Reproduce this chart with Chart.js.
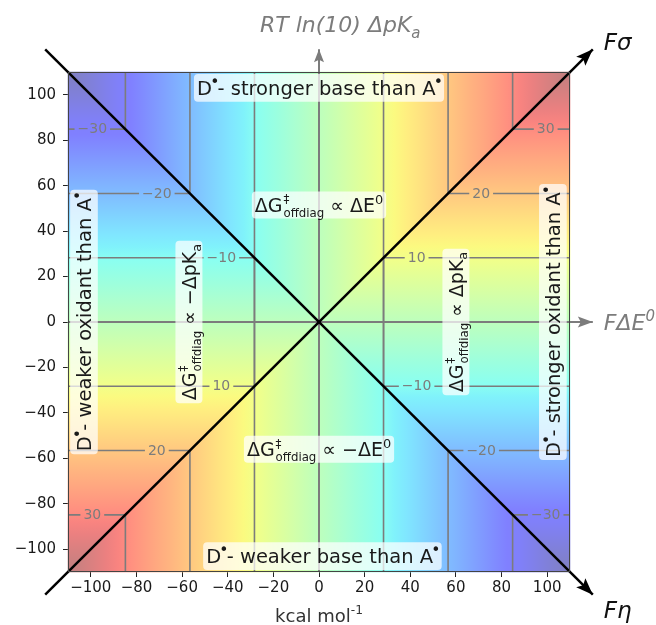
<!DOCTYPE html>
<html lang="en">
<head>
<meta charset="UTF-8">
<title>Offdiagonal barrier map</title>
<script src="https://cdn.jsdelivr.net/npm/chart.js"></script>
<style>
  html, body { margin: 0; padding: 0; background: #fff; }
</style>
</head>
<body>
<canvas id="c" width="656" height="625"></canvas>
<script>
// axis range and tick values (kcal/mol)
const axisMin = -110, axisMax = 110;
const xTicks = [-100, -80, -60, -40, -20, 0, 20, 40, 60, 80, 100];
const yTicks = [-100, -80, -60, -40, -20, 0, 20, 40, 60, 80, 100];

// contour levels of dG offdiag, labelled next to the two diagonals
const contourLevels = [-30, -20, -10, 10, 20, 30];
const levelToAxis = 2 * Math.SQRT2;   // one contour unit in kcal/mol along x or y

// the F sigma / F eta diagonals and the two grey reference axes
const sigmaLine = [{x: -120, y: -120}, {x: 120, y: 120}];
const etaLine = [{x: -120, y: 120}, {x: 120, y: -120}];
const dEAxis = [{x: -110, y: 0}, {x: 120, y: 0}];
const pKaAxis = [{x: 0, y: -110}, {x: 0, y: 120}];

const FONT = '"DejaVu Sans"';
const GREY = '#7c7c7c';

// rich text pieces
const N = t => ({t, s: 'n'});
const SUP = t => ({t, s: 'sup'});
const SUB = t => ({t, s: 'sub'});
const DOT = () => ({t: '•', s: 'dot'});
const STACK = (a, b) => ({stack: [a, b]});
const dG = [N('ΔG'), STACK('‡', 'offdiag')];

const notes = [
  {x: 0, y: 103, rot: 0, fs: 19.5, segs: [N('D'), DOT(), N('- stronger base than A'), DOT()]},
  {x: 1.5, y: -103, rot: 0, fs: 19.5, segs: [N('D'), DOT(), N('- weaker base than A'), DOT()]},
  {x: -103, y: 0, rot: -1, fs: 19.5, segs: [N('D'), DOT(), N('- weaker oxidant than A'), DOT()]},
  {x: 102.5, y: 0, rot: -1, fs: 19.5, segs: [N('D'), DOT(), N('- stronger oxidant than A'), DOT()]},
  {x: 0, y: 51.5, rot: 0, fs: 19, segs: [...dG, N(' ∝ ΔE'), SUP('0')]},
  {x: 0, y: -56, rot: 0, fs: 19, segs: [...dG, N(' ∝ −ΔE'), SUP('0')]},
  {x: -57, y: 0, rot: -1, fs: 19, segs: [...dG, N(' ∝ −ΔpK'), SUB('a')]},
  {x: 60, y: 0, rot: -1, fs: 19, segs: [...dG, N(' ∝ ΔpK'), SUB('a')]}
];

// jet colormap, drawn at alpha 0.5 over white
function jet(t) {
  function seg(pts) {
    for (let i = 1; i < pts.length; i++) {
      if (t <= pts[i][0]) {
        const [x0, y0] = pts[i - 1], [x1, y1] = pts[i];
        return y0 + (y1 - y0) * (t - x0) / (x1 - x0);
      }
    }
    return pts[pts.length - 1][1];
  }
  const r = seg([[0, 0], [0.35, 0], [0.66, 1], [0.89, 1], [1, 0.5]]);
  const g = seg([[0, 0], [0.125, 0], [0.375, 1], [0.64, 1], [0.91, 0], [1, 0]]);
  const b = seg([[0, 0.5], [0.11, 1], [0.34, 1], [0.65, 0], [1, 0]]);
  const mix = c => Math.round(255 * (0.5 + 0.5 * c));
  return `rgb(${mix(r)},${mix(g)},${mix(b)})`;
}

function jetGradient(ctx, x0, y0, x1, y1) {
  const grad = ctx.createLinearGradient(x0, y0, x1, y1);
  for (let i = 0; i <= 40; i++) grad.addColorStop(i / 40, jet(i / 40));
  return grad;
}

function layoutRich(ctx, segs, fs, style) {
  let w = 0;
  const items = [];
  const small = fs * 0.68;
  segs.forEach(s => {
    if (s.stack) {
      const ss = fs * 0.62;
      ctx.font = `${style} ${ss}px ${FONT}`;
      const w1 = ctx.measureText(s.stack[0]).width;
      const w2 = ctx.measureText(s.stack[1]).width;
      items.push({t: s.stack[0], x: w + 1, dy: -0.45 * fs, size: ss});
      items.push({t: s.stack[1], x: w + 1, dy: 0.26 * fs, size: ss});
      w += Math.max(w1, w2) + 1;
    } else {
      const size = s.s === 'n' ? fs : s.s === 'dot' ? fs * 0.8 : small;
      ctx.font = `${style} ${size}px ${FONT}`;
      const dy = s.s === 'sup' ? -0.42 * fs : s.s === 'dot' ? -0.42 * fs : s.s === 'sub' ? 0.24 * fs : 0;
      const tw = ctx.measureText(s.t).width;
      const shift = s.s === 'dot' ? -0.2 * tw : 0;
      items.push({t: s.t, x: w + shift, dy, size});
      w += s.s === 'dot' ? tw * 0.6 : tw;
    }
  });
  return {items, w};
}

function drawRich(ctx, items, x, y, style) {
  ctx.textBaseline = 'alphabetic';
  ctx.textAlign = 'left';
  items.forEach(it => {
    ctx.font = `${style} ${it.size}px ${FONT}`;
    ctx.fillText(it.t, x + it.x, y + it.dy);
  });
}

function arrowHead(ctx, x0, y0, x1, y1, len, half, color) {
  const a = Math.atan2(y1 - y0, x1 - x0);
  ctx.save();
  ctx.translate(x1, y1);
  ctx.rotate(a);
  ctx.fillStyle = color;
  ctx.beginPath();
  ctx.moveTo(0, 0);
  ctx.lineTo(-len, -half);
  ctx.lineTo(-len * 0.8, 0);
  ctx.lineTo(-len, half);
  ctx.closePath();
  ctx.fill();
  ctx.restore();
}

const mapPlugin = {
  id: 'map',
  beforeDatasetsDraw(chart) {
    const {ctx, scales: {x, y}} = chart;
    const X = v => x.getPixelForValue(v), Y = v => y.getPixelForValue(v);
    const cx = X(0), cy = Y(0);
    // four wedges: top follows +x, right +y, bottom -x, left -y
    const wedges = [
      {a: [axisMin, axisMax], b: [axisMax, axisMax], g: [X(axisMin), 0, X(axisMax), 0]},
      {a: [axisMax, axisMax], b: [axisMax, axisMin], g: [0, Y(axisMin), 0, Y(axisMax)]},
      {a: [axisMax, axisMin], b: [axisMin, axisMin], g: [X(axisMax), 0, X(axisMin), 0]},
      {a: [axisMin, axisMin], b: [axisMin, axisMax], g: [0, Y(axisMax), 0, Y(axisMin)]}
    ];
    ctx.save();
    wedges.forEach(w => {
      ctx.beginPath();
      ctx.moveTo(cx, cy);
      ctx.lineTo(X(w.a[0]), Y(w.a[1]));
      ctx.lineTo(X(w.b[0]), Y(w.b[1]));
      ctx.closePath();
      ctx.fillStyle = jetGradient(ctx, ...w.g);
      ctx.fill();
      ctx.strokeStyle = ctx.fillStyle;
      ctx.lineWidth = 0.6;
      ctx.stroke();
    });

    // contour lines, L-shaped around the diagonals, with inline labels
    ctx.strokeStyle = GREY;
    ctx.lineWidth = 1.6;
    ctx.font = `14px ${FONT}`;
    ctx.textAlign = 'center';
    ctx.textBaseline = 'middle';
    const smallest = Math.min(...contourLevels.map(Math.abs));
    contourLevels.forEach(level => {
      const p = Math.abs(level) * levelToAxis;
      const corners = level < 0 ? [[-1, 1], [1, -1]] : [[1, 1], [-1, -1]];
      corners.forEach(([sx, sy]) => {
        const px = sx * p, py = sy * p;
        // vertical leg to the top / bottom edge
        const yFrom = Math.abs(level) === smallest ? -py : py;
        ctx.beginPath();
        ctx.moveTo(X(px), Y(yFrom));
        ctx.lineTo(X(px), Y(sy * axisMax));
        ctx.stroke();
        // horizontal leg to the side edge, broken for the label
        const label = level < 0 ? '−' + Math.abs(level) : String(level);
        const lx = X(px + sx * 14.5);
        const gap = ctx.measureText(label).width / 2 + 3;
        const xa = X(px), xb = X(sx * axisMax);
        ctx.beginPath();
        ctx.moveTo(xa, Y(py));
        ctx.lineTo(lx - sx * gap, Y(py));
        ctx.moveTo(lx + sx * gap, Y(py));
        ctx.lineTo(xb, Y(py));
        ctx.stroke();
        ctx.fillStyle = GREY;
        ctx.fillText(label, lx, Y(py) + 0.5);
      });
    });
    ctx.restore();
  },
  afterDatasetsDraw(chart) {
    const {ctx, chartArea: ca, scales: {x, y}} = chart;
    const X = v => x.getPixelForValue(v), Y = v => y.getPixelForValue(v);
    ctx.save();
    // arrow heads
    const p = (pt) => [X(pt.x), Y(pt.y)];
    arrowHead(ctx, ...p(dEAxis[0]), ...p(dEAxis[1]), 15, 5.5, GREY);
    arrowHead(ctx, ...p(pKaAxis[0]), ...p(pKaAxis[1]), 13, 5, GREY);
    arrowHead(ctx, ...p(sigmaLine[0]), ...p(sigmaLine[1]), 17, 6.5, '#000');
    arrowHead(ctx, ...p(etaLine[0]), ...p(etaLine[1]), 17, 6.5, '#000');

    // frame
    ctx.strokeStyle = '#444';
    ctx.lineWidth = 1;
    ctx.strokeRect(ca.left + 0.5, ca.top + 0.5, ca.right - ca.left - 1, ca.bottom - ca.top - 1);

    // annotation boxes
    notes.forEach(n => {
      const fs = n.fs;
      const lay = layoutRich(ctx, n.segs, fs, '');
      ctx.save();
      ctx.translate(X(n.x), Y(n.y));
      ctx.rotate(n.rot * Math.PI / 2);
      const base = 0.37 * fs;
      const pad = 3;
      ctx.fillStyle = 'rgba(255,255,255,0.72)';
      ctx.beginPath();
      ctx.roundRect(-lay.w / 2 - pad, base - 1.08 * fs, lay.w + 2 * pad, 1.42 * fs, 4);
      ctx.fill();
      ctx.fillStyle = '#1a1a1a';
      drawRich(ctx, lay.items, -lay.w / 2, base, '');
      ctx.restore();
    });

    // outer axis names
    ctx.fillStyle = '#111';
    drawRich(ctx, layoutRich(ctx, [N('Fσ')], 23, 'italic').items, X(120) + 11, Y(120) + 1, 'italic');
    drawRich(ctx, layoutRich(ctx, [N('Fη')], 23, 'italic').items, X(120) + 11, Y(-120) + 23, 'italic');
    ctx.fillStyle = GREY;
    drawRich(ctx, layoutRich(ctx, [N('FΔE'), SUP('0')], 22, 'italic').items, X(120) + 11, Y(0) + 8, 'italic');
    drawRich(ctx, layoutRich(ctx, [N('RT ln(10) ΔpK'), SUB('a')], 22, 'italic').items, X(0) - 59, Y(120) - 17, 'italic');
    ctx.fillStyle = '#333';
    const kc = layoutRich(ctx, [N('kcal mol'), SUP('-1')], 18, '');
    drawRich(ctx, kc.items, (ca.left + ca.right) / 2 - kc.w / 2, 622, '');
    ctx.restore();
  }
};

const minus = v => (v < 0 ? '−' + Math.abs(v) : String(v));

new Chart(document.getElementById('c'), {
  type: 'scatter',
  data: {
    datasets: [
      {data: sigmaLine, showLine: true, borderColor: '#000', borderWidth: 2.5, pointRadius: 0, clip: false, order: 1},
      {data: etaLine, showLine: true, borderColor: '#000', borderWidth: 2.5, pointRadius: 0, clip: false, order: 1},
      {data: dEAxis, showLine: true, borderColor: GREY, borderWidth: 2, pointRadius: 0, clip: false, order: 2},
      {data: pKaAxis, showLine: true, borderColor: GREY, borderWidth: 2, pointRadius: 0, clip: false, order: 2}
    ]
  },
  options: {
    responsive: false,
    animation: false,
    devicePixelRatio: 1,
    layout: {padding: {top: 72, right: 86, left: 0, bottom: 0}},
    plugins: {legend: {display: false}, tooltip: {enabled: false}},
    scales: {
      x: {
        type: 'linear', min: axisMin, max: axisMax,
        afterBuildTicks: s => { s.ticks = xTicks.map(v => ({value: v})); },
        afterFit: s => { s.height = 53; },
        grid: {display: true, drawOnChartArea: false, drawTicks: true, tickLength: 5, color: '#222'},
        border: {display: false},
        ticks: {font: {family: 'DejaVu Sans', size: 15}, color: '#1a1a1a', padding: 2, maxRotation: 0, callback: minus}
      },
      y: {
        type: 'linear', min: axisMin, max: axisMax,
        afterBuildTicks: s => { s.ticks = yTicks.map(v => ({value: v})); },
        afterFit: s => { s.width = 68; },
        grid: {display: true, drawOnChartArea: false, drawTicks: true, tickLength: 5, color: '#222'},
        border: {display: false},
        ticks: {font: {family: 'DejaVu Sans', size: 15}, color: '#1a1a1a', padding: 7, callback: minus}
      }
    }
  },
  plugins: [mapPlugin]
});
</script>
</body>
</html>
